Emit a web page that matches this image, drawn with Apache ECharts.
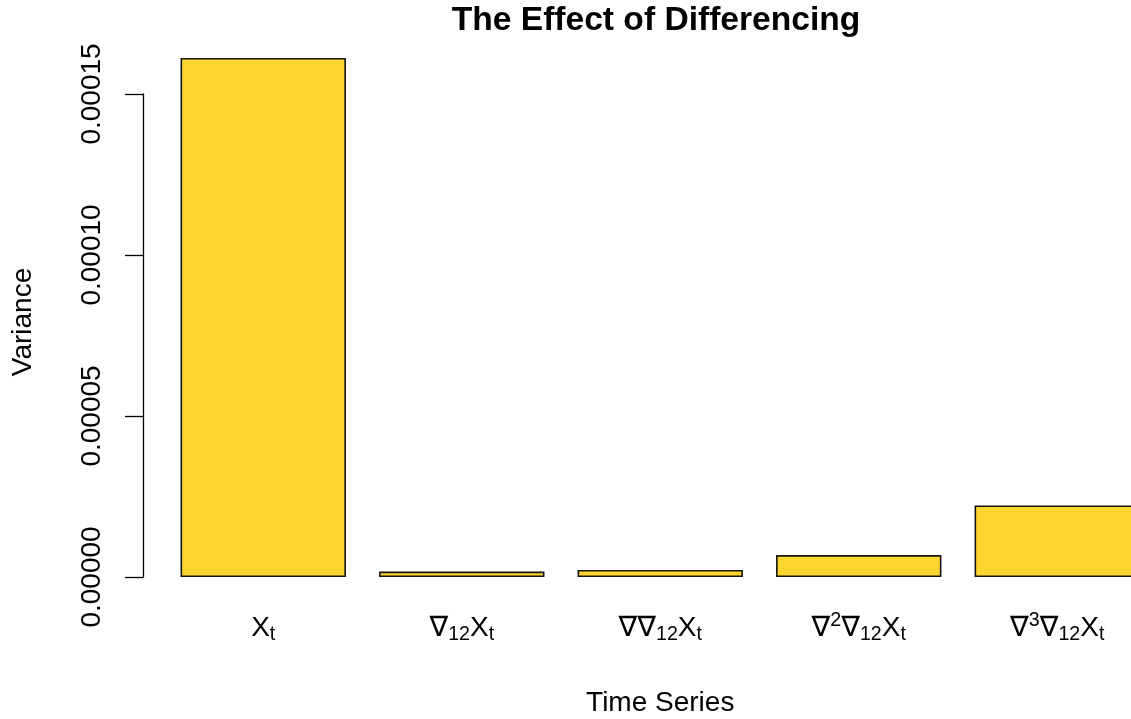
<!DOCTYPE html>
<html>
<head>
<meta charset="utf-8">
<title>The Effect of Differencing</title>
<script src="https://cdn.jsdelivr.net/npm/echarts@6/dist/echarts.min.js"></script>
<style>
  html, body { margin: 0; padding: 0; background: #ffffff; overflow: hidden; }
  #chart { width: 1131px; height: 719px; }
</style>
</head>
<body>
<div id="chart"></div>
<script>
// Series names and their sample variances
const categories = ['X_t', '∇12 X_t', '∇∇12 X_t', '∇²∇12 X_t', '∇³∇12 X_t'];
const variances = [0.0001612, 0.0000017, 0.0000022, 0.0000068, 0.0000222];

// Tick labels written with rich-text pieces: b = base, s = subscript, p = superscript
const tickLabels = [
  '{b|X}{s|t}',
  '{b|∇}{s|12}{b|X}{s|t}',
  '{b|∇∇}{s|12}{b|X}{s|t}',
  '{b|∇}{p|2}{b|∇}{s|12}{b|X}{s|t}',
  '{b|∇}{p|3}{b|∇}{s|12}{b|X}{s|t}'
];
const yTicks = [0, 0.00005, 0.0001, 0.00015];

const FONT = '"Liberation Sans", Arial, Helvetica, "DejaVu Sans", sans-serif';
const chart = echarts.init(document.getElementById('chart'), null, { renderer: 'canvas' });

chart.setOption({
  backgroundColor: '#ffffff',
  animation: false,
  title: {
    text: 'The Effect of Differencing',
    left: 656,
    top: 4,
    padding: 0,
    textAlign: 'center',
    textStyle: { fontFamily: FONT, fontSize: 33.6, fontWeight: 'bold', color: '#000000' }
  },
  graphic: [{
    type: 'text',
    x: 23,
    y: 322,
    rotation: Math.PI / 2,
    style: {
      text: 'Variance',
      fontFamily: FONT,
      fontSize: 28,
      fill: '#000000',
      textAlign: 'center',
      textVerticalAlign: 'middle'
    }
  }],
  // the plot area runs past the right edge, so the last bar is cut off
  grid: { left: 164, top: 94, width: 992.5, height: 483, containLabel: false, outerBoundsMode: 'none' },
  xAxis: {
    type: 'category',
    data: categories,
    name: 'Time Series',
    nameLocation: 'middle',
    nameGap: 112,
    nameTextStyle: { fontFamily: FONT, fontSize: 28, color: '#000000' },
    axisLine: { show: false },
    axisTick: { show: false },
    splitLine: { show: false },
    axisLabel: {
      interval: 0,
      margin: 34,
      formatter: (v, i) => tickLabels[i],
      rich: {
        b: { fontFamily: FONT, fontSize: 28, lineHeight: 34, color: '#000000' },
        s: { fontFamily: FONT, fontSize: 19.6, lineHeight: 16, verticalAlign: 'bottom', color: '#000000' },
        p: { fontFamily: FONT, fontSize: 19.6, lineHeight: 22, verticalAlign: 'top', color: '#000000' }
      }
    }
  },
  yAxis: {
    type: 'value',
    min: yTicks[0],
    max: yTicks[yTicks.length - 1],
    interval: yTicks[1] - yTicks[0],
    offset: 21,
    axisLine: { show: true, lineStyle: { color: '#000000', width: 1.3 } },
    axisTick: { show: true, length: 18, lineStyle: { color: '#000000', width: 1.3 } },
    splitLine: { show: false },
    axisLabel: {
      rotate: 90,
      margin: 37,
      fontFamily: FONT,
      fontSize: 28,
      color: '#000000',
      formatter: v => v.toFixed(5)
    }
  },
  series: [{
    type: 'bar',
    data: variances,
    clip: false,
    barCategoryGap: '16.67%',
    itemStyle: { color: '#FCD62F', borderColor: '#151515', borderWidth: 1.6 },
    emphasis: { disabled: true }
  }]
});
</script>
</body>
</html>
